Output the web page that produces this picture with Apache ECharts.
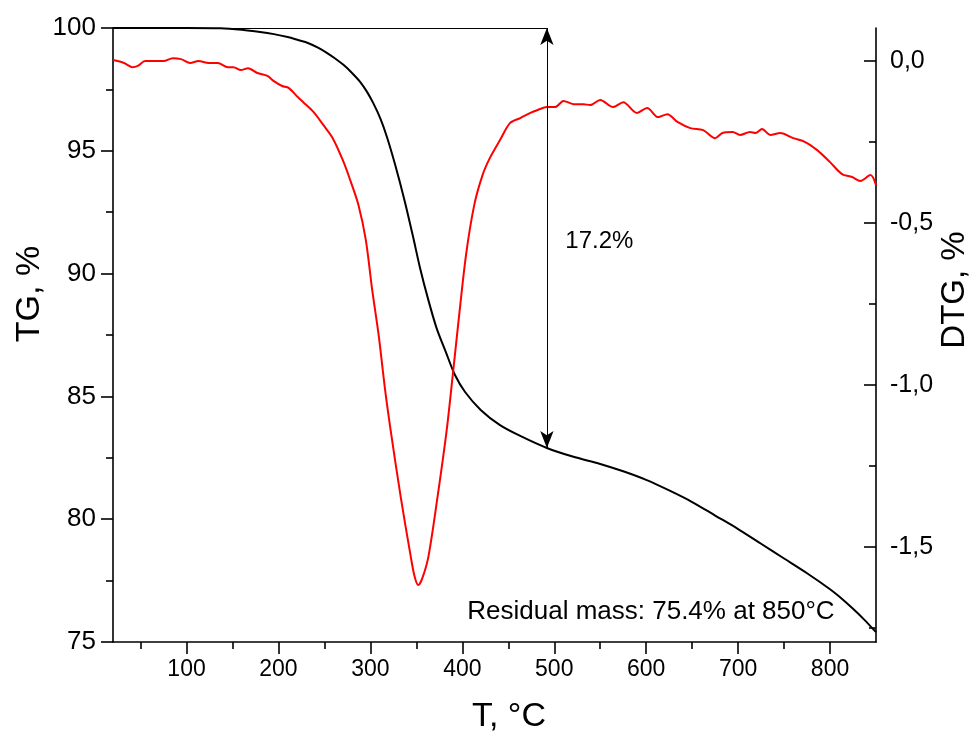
<!DOCTYPE html>
<html><head><meta charset="utf-8">
<script src="https://cdn.jsdelivr.net/npm/echarts@6/dist/echarts.min.js"></script>
<style>html,body{margin:0;padding:0;background:#fff}#c{width:978px;height:742px}</style>
</head><body><div id="c"></div>
<script>
// TG curve (black, left axis)
const tgTemp = [20, 60, 100, 137, 160, 180, 195, 210, 222, 232, 243, 253, 262, 271, 280, 289, 296, 303, 311, 318, 327, 337, 346, 354, 363, 372, 382, 392, 403, 420, 441, 463, 492, 520, 550, 575, 600, 625, 650, 675, 700, 725, 750, 775, 800, 810, 825, 838, 850];
const tgValues = [100, 100, 100, 99.99, 99.93, 99.84, 99.75, 99.63, 99.5, 99.39, 99.2, 98.98, 98.75, 98.49, 98.17, 97.8, 97.42, 96.95, 96.3, 95.56, 94.42, 93.0, 91.57, 90.23, 88.93, 87.78, 86.81, 85.87, 85.18, 84.45, 83.83, 83.39, 82.9, 82.55, 82.25, 81.95, 81.6, 81.17, 80.7, 80.15, 79.6, 79.0, 78.4, 77.8, 77.15, 76.85, 76.35, 75.88, 75.4];
// DTG curve (red, right axis)
const dtgTemp = [20, 32, 41, 47, 55, 64, 75, 85, 94, 104, 113, 124, 134, 145, 151, 159, 167, 177, 188, 195, 204, 211, 221, 227, 238, 249, 259, 270, 278, 287, 295, 302, 309, 316, 322, 333, 344, 348, 352, 356, 363, 373, 383, 389, 396, 404, 413, 422, 430, 441, 452, 463, 474, 482, 492, 501, 510, 521, 532, 539, 550, 564, 575, 590, 601, 613, 623, 634, 648, 662, 675, 683, 694, 702, 713, 719, 726, 735, 746, 760, 773, 786, 800, 813, 824, 833, 844, 850];
const dtgValues = [0.003, -0.006, -0.019, -0.015, 0, 0, 0, 0.009, 0.006, -0.006, 0, -0.006, -0.006, -0.019, -0.019, -0.028, -0.022, -0.037, -0.046, -0.062, -0.077, -0.083, -0.111, -0.127, -0.157, -0.198, -0.238, -0.306, -0.367, -0.444, -0.552, -0.707, -0.846, -1.015, -1.139, -1.346, -1.531, -1.59, -1.617, -1.6, -1.531, -1.346, -1.139, -0.985, -0.799, -0.599, -0.444, -0.352, -0.299, -0.244, -0.191, -0.176, -0.16, -0.151, -0.142, -0.142, -0.123, -0.133, -0.133, -0.136, -0.12, -0.142, -0.127, -0.16, -0.145, -0.173, -0.164, -0.188, -0.207, -0.213, -0.238, -0.222, -0.219, -0.228, -0.219, -0.222, -0.21, -0.228, -0.222, -0.238, -0.25, -0.275, -0.312, -0.349, -0.358, -0.37, -0.352, -0.383];
// ticks
const xMajorTicks = [100, 200, 300, 400, 500, 600, 700, 800];
const xMinorTicks = [50, 150, 250, 350, 450, 550, 650, 750];
const dtgMajorTicks = [0, -0.5, -1, -1.5];
const dtgMinorTicks = [-0.25, -0.75, -1.25, -1.75];
// annotation
const lossTemp = 492, lossFrom = 100, lossTo = 82.9;
const lossLabel = '17.2%', lossLabelAt = [512, 91.3];
const residualLabel = 'Residual mass: 75.4% at 850°C', residualAt = [805, 76.22];

const FONT = '"Liberation Sans", Arial, sans-serif';
const axisLineStyle = { color: '#000', width: 1.6 };
const chart = echarts.init(document.getElementById('c'));
chart.setOption({
  animation: false,
  backgroundColor: '#fff',
  textStyle: { fontFamily: FONT },
  grid: { left: 113, right: 102, top: 28, bottom: 100 },
  xAxis: [
    { type: 'value', min: 20, max: 850, position: 'bottom',
      axisLine: { onZero: false, lineStyle: axisLineStyle },
      axisTick: { customValues: xMajorTicks, length: 12, lineStyle: axisLineStyle },
      axisLabel: { customValues: xMajorTicks, fontSize: 23, color: '#000', margin: 16, fontFamily: FONT },
      splitLine: { show: false } },
    { type: 'value', min: 20, max: 850, position: 'bottom',
      axisLine: { show: false, onZero: false },
      axisTick: { customValues: xMinorTicks, length: 7, lineStyle: axisLineStyle },
      axisLabel: { show: false }, splitLine: { show: false } }
  ],
  yAxis: [
    { type: 'value', min: 75, max: 100, interval: 5, position: 'left',
      axisLine: { show: true, onZero: false, lineStyle: axisLineStyle },
      axisTick: { show: true, length: 12, lineStyle: axisLineStyle },
      minorTick: { show: true, splitNumber: 2, length: 7, lineStyle: axisLineStyle },
      axisLabel: { fontSize: 26, color: '#000', margin: 17, fontFamily: FONT },
      splitLine: { show: false }, minorSplitLine: { show: false } },
    { type: 'value', min: -1.793, max: 0.102, position: 'right',
      axisLine: { show: true, onZero: false, lineStyle: axisLineStyle },
      axisTick: { show: true, inside: true, customValues: dtgMajorTicks, length: 12, lineStyle: axisLineStyle },
      axisLabel: { customValues: dtgMajorTicks, fontSize: 25, color: '#000', margin: 14, fontFamily: FONT,
        formatter: v => v.toFixed(1).replace('.', ',') },
      splitLine: { show: false } },
    { type: 'value', min: -1.793, max: 0.102, position: 'right',
      axisLine: { show: false, onZero: false },
      axisTick: { show: true, inside: true, customValues: dtgMinorTicks, length: 7, lineStyle: axisLineStyle },
      axisLabel: { show: false }, splitLine: { show: false } }
  ],
  series: [
    { name: 'TG', type: 'line', xAxisIndex: 0, yAxisIndex: 0, symbol: 'none',
      smooth: 0.3,
      lineStyle: { color: '#000', width: 2 }, itemStyle: { color: '#000' },
      data: tgTemp.map((t, i) => [t, tgValues[i]]),
      markLine: { silent: true, animation: false, label: { show: false },
        lineStyle: { color: '#000', width: 1, type: 'solid' },
        symbolSize: [10, 17],
        data: [
          [{ coord: [20, lossFrom], symbol: 'none' }, { coord: [lossTemp, lossFrom], symbol: 'none' }],
          [{ coord: [lossTemp, lossFrom], symbol: 'arrow' }, { coord: [lossTemp, lossTo], symbol: 'arrow' }]
        ] } },
    { name: 'DTG', type: 'line', xAxisIndex: 0, yAxisIndex: 1, symbol: 'none',
      smooth: 0.3,
      lineStyle: { color: '#ff0000', width: 2 }, itemStyle: { color: '#ff0000' },
      data: dtgTemp.map((t, i) => [t, dtgValues[i]]) }
  ]
});
const p1 = chart.convertToPixel({ xAxisIndex: 0, yAxisIndex: 0 }, lossLabelAt);
const p2 = chart.convertToPixel({ xAxisIndex: 0, yAxisIndex: 0 }, residualAt);
chart.setOption({
  graphic: [
    { type: 'text', x: p1[0], y: p1[1], style: { text: lossLabel, font: '24px ' + FONT, fill: '#000', align: 'left', verticalAlign: 'middle' } },
    { type: 'text', x: p2[0], y: p2[1], style: { text: residualLabel, font: '26px ' + FONT, fill: '#000', align: 'right', verticalAlign: 'middle' } },
    { type: 'text', x: 30, y: 294, rotation: Math.PI / 2, style: { text: 'TG, %', font: '34px ' + FONT, fill: '#000', align: 'center', verticalAlign: 'middle' } },
    { type: 'text', x: 955, y: 290, rotation: Math.PI / 2, style: { text: 'DTG, %', font: '33px ' + FONT, fill: '#000', align: 'center', verticalAlign: 'middle' } },
    { type: 'text', x: 509, y: 717, style: { text: 'T, °C', font: '34px ' + FONT, fill: '#000', align: 'center', verticalAlign: 'middle' } }
  ]
});
</script></body></html>
